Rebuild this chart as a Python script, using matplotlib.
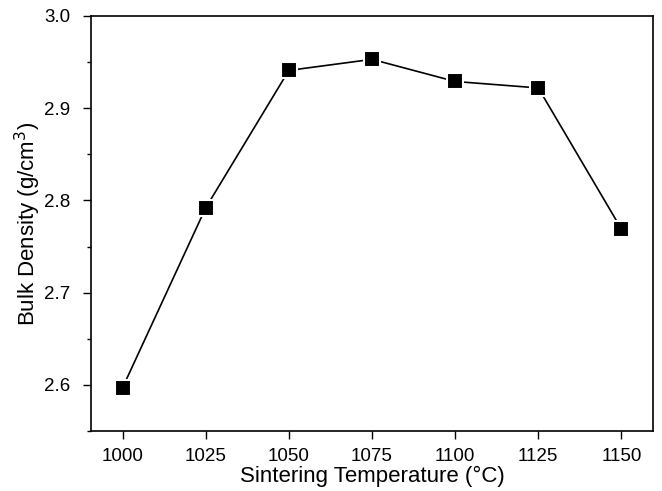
import matplotlib
matplotlib.use("Agg")
import matplotlib.pyplot as plt
from matplotlib.ticker import MultipleLocator

plt.rcParams['font.family'] = ['Liberation Sans', 'DejaVu Sans']

temperature = [1000, 1025, 1050, 1075, 1100, 1125, 1150]
density = [2.597, 2.792, 2.941, 2.953, 2.929, 2.922, 2.769]
x_ticks = [1000, 1025, 1050, 1075, 1100, 1125, 1150]
y_ticks = [2.6, 2.7, 2.8, 2.9, 3.0]

fig = plt.figure(figsize=(6.62, 4.91), dpi=100)
ax = fig.add_axes([91/662, 60/491, (653-91)/662, (431-16)/491])

ax.plot(temperature, density, color='black', linewidth=1.2,
        marker='s', markersize=12, markerfacecolor='black',
        markeredgecolor='white', markeredgewidth=1.5)

ax.set_xlim(990.5, 1159.5)
ax.set_ylim(2.55, 3.0)
ax.set_xticks(x_ticks)
ax.set_yticks(y_ticks)
ax.set_yticklabels([f"{v:.1f}" for v in y_ticks])
ax.yaxis.set_minor_locator(MultipleLocator(0.05))

ax.tick_params(axis='both', which='major', direction='out', length=6, width=1.0,
               labelsize=13.5, top=False, right=False)
ax.tick_params(axis='x', pad=6)
ax.tick_params(axis='y', pad=9)
ax.tick_params(axis='y', which='minor', direction='out', length=3, width=1.0)

for s in ax.spines.values():
    s.set_linewidth(1.2)

ax.set_xlabel("Sintering Temperature (°C)", fontsize=16, labelpad=1)
ax.set_ylabel("Bulk Density (g/cm$^3$)", fontsize=16, labelpad=1)

fig.savefig("out.png", dpi=100)
